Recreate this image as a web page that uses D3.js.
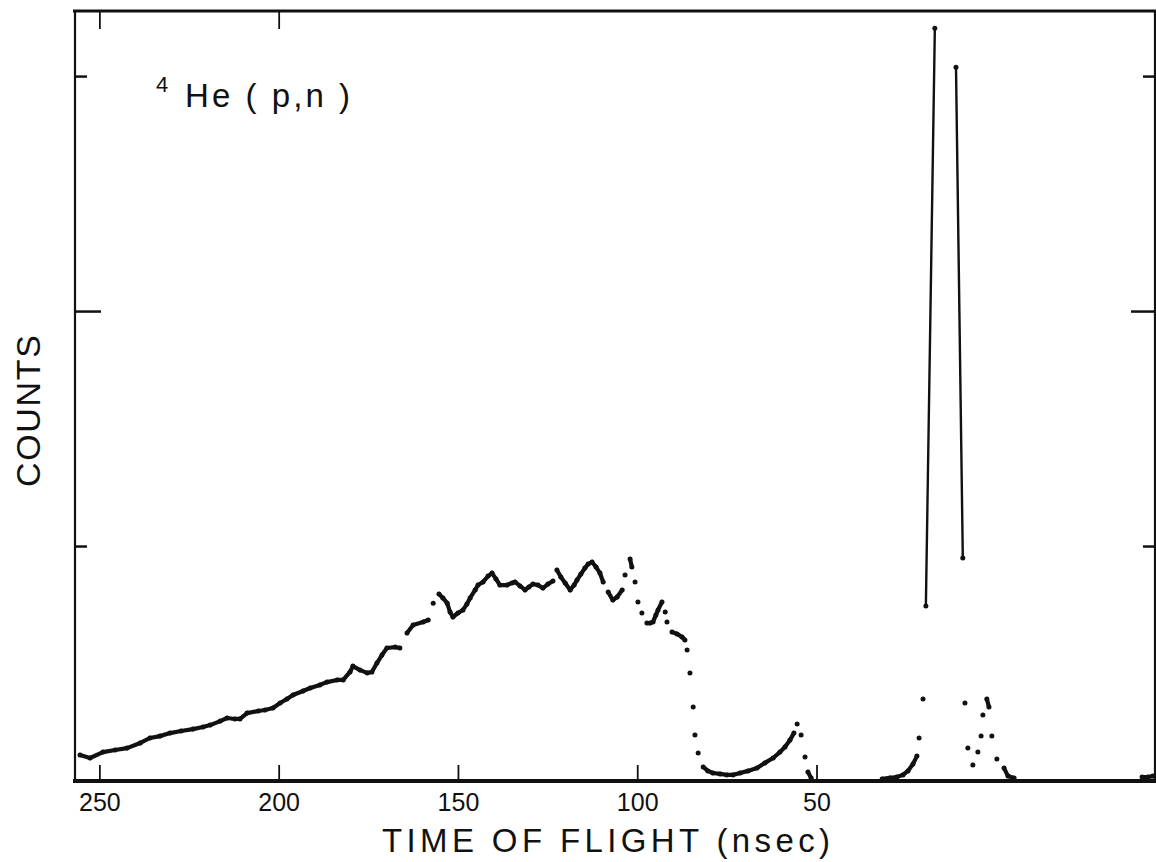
<!DOCTYPE html>
<html>
<head>
<meta charset="utf-8">
<script src="https://cdnjs.cloudflare.com/ajax/libs/d3/7.8.5/d3.min.js"></script>
<style>
  body { margin: 0; background: #fff; }
  svg { display: block; }
  text { font-family: "Liberation Sans", Arial, sans-serif; fill: #111; }
</style>
</head>
<body>
<div id="chart"></div>
<script>
// time of flight (nsec) from left to right
var tof = [255.4, 252.6, 249.0, 245.6, 242.3, 238.6, 235.9, 233.1, 230.3, 227.2,
  223.9, 221.1, 219.1, 216.3, 214.4, 212.2, 210.8, 208.8, 205.7, 203.8,
  201.6, 199.6, 197.7, 196.0, 193.2, 191.2, 188.5, 186.5, 183.7, 182.0,
  180.1, 179.3, 177.3, 175.3, 174.0, 172.6, 171.2, 169.8, 167.5, 166.2,
  164.2, 162.5, 159.7, 158.3, 156.9, 155.3, 154.2, 153.0, 152.2, 151.4,
  150.0, 148.6, 147.5, 146.6, 145.2, 144.4, 143.0, 141.6, 140.5, 139.4,
  138.3, 136.3, 134.9, 134.1, 132.7, 131.3, 130.2, 129.1, 127.7, 126.3,
  124.9, 123.5, 122.4, 121.3, 120.1, 118.7, 117.6, 116.8, 115.7, 114.6,
  113.7, 112.6, 111.5, 110.4, 109.5, 108.1, 106.8, 105.6, 104.2, 103.4,
  102.0, 101.5, 100.6, 99.8, 98.7, 97.3, 96.4, 95.6, 94.8, 94.2,
  93.1, 92.2, 91.7, 90.3, 88.9, 87.5, 86.7, 86.1, 85.3, 84.4,
  83.9, 83.0, 81.6, 80.3, 78.9, 76.9, 75.0, 73.3, 71.3, 69.1,
  66.6, 64.4, 62.1, 60.2, 58.8, 57.4, 56.3, 55.4, 54.3, 53.2,
  52.4, 51.5, 31.7, 29.5, 27.6, 25.9, 24.5, 23.1, 22.0, 21.4,
  20.3, 19.5, 17.0, 11.1, 9.2, 8.6, 7.8, 6.4, 5.0, 4.1,
  3.6, 2.5, 1.9, 1.1, -0.3, -2.3, -3.4, -5.1, -40.8, -42.4, -43.8];

// counts for each point above
var counts = [111, 98, 123, 132, 140, 162, 183, 191, 204, 213,
  221, 230, 238, 255, 268, 264, 264, 289, 298, 302,
  311, 332, 349, 366, 383, 396, 409, 421, 430, 430,
  464, 489, 472, 460, 464, 502, 536, 566, 570, 566,
  630, 664, 677, 685, 757, 796, 779, 757, 719, 698,
  715, 728, 753, 779, 813, 834, 847, 872, 885, 860,
  834, 834, 843, 847, 830, 813, 826, 838, 834, 821,
  838, 851, 898, 868, 843, 813, 834, 855, 881, 906,
  923, 932, 911, 885, 847, 804, 770, 783, 813, 877,
  945, 911, 847, 762, 715, 672, 672, 677, 706, 728,
  762, 719, 677, 634, 626, 613, 600, 557, 460, 315,
  196, 119, 60, 43, 34, 30, 26, 26, 34, 43,
  55, 77, 98, 123, 145, 174, 204, 243, 196, 102,
  38, 13, 9, 13, 17, 26, 43, 72, 106, 183,
  349, 745, 3204, 3038, 949, 332, 140, 68, 123, 191,
  281, 349, 315, 191, 94, 55, 21, 13, 17, 17, 21];

// the two tall strokes of the peak (null breaks the line)
var peakTof = [19.5, 17.0, null, 11.1, 9.2];
var peakCounts = [745, 3204, null, 3038, 949];

var xTicks = [250, 200, 150, 100, 50];
var topTicks = [250, 200];
var yTicks = [1000, 2000, 3000];
var longYTick = 2000;

const WIDTH = 1156;
const HEIGHT = 862;
const LEFT = 75, TOP = 11, RIGHT = 1155, BOTTOM = 781;

var xScale = d3.scaleLinear().domain([256.8, -44.4]).range([LEFT, RIGHT]);
var yScale = d3.scaleLinear().domain([0, 3277]).range([BOTTOM, TOP]);

var svg = d3.select('#chart').append('svg')
  .attr('width', WIDTH)
  .attr('height', HEIGHT);

svg.append('rect').attr('width', WIDTH).attr('height', HEIGHT).attr('fill', '#fff');

svg.append('clipPath').attr('id', 'plot-clip')
  .append('rect')
  .attr('x', LEFT).attr('y', TOP)
  .attr('width', RIGHT - LEFT).attr('height', BOTTOM - TOP);

// frame
var ink = '#111';
svg.append('line').attr('x1', LEFT - 2).attr('x2', RIGHT + 1).attr('y1', TOP).attr('y2', TOP)
  .attr('stroke', ink).attr('stroke-width', 3);
svg.append('line').attr('x1', LEFT - 2).attr('x2', RIGHT + 1).attr('y1', BOTTOM).attr('y2', BOTTOM)
  .attr('stroke', ink).attr('stroke-width', 4);
svg.append('line').attr('x1', LEFT).attr('x2', LEFT).attr('y1', TOP).attr('y2', BOTTOM)
  .attr('stroke', ink).attr('stroke-width', 2.2);
svg.append('line').attr('x1', RIGHT).attr('x2', RIGHT).attr('y1', TOP).attr('y2', BOTTOM)
  .attr('stroke', ink).attr('stroke-width', 2.2);

// axes (ticks point inward)
var styleAxis = function(g){
  g.select('.domain').remove();
  g.selectAll('.tick line').attr('stroke', ink).attr('stroke-width', 1.8);
  g.selectAll('text').attr('font-family', '"Liberation Sans", Arial, sans-serif')
    .attr('font-size', 25).attr('fill', ink);
};

svg.append('g')
  .attr('transform', 'translate(0,' + BOTTOM + ')')
  .call(d3.axisBottom(xScale).tickValues(xTicks).tickSize(-16).tickPadding(12))
  .call(styleAxis);

svg.append('g')
  .attr('transform', 'translate(0,' + TOP + ')')
  .call(d3.axisTop(xScale).tickValues(topTicks).tickSize(-18).tickFormat(''))
  .call(styleAxis);

var leftAxis = svg.append('g')
  .attr('transform', 'translate(' + LEFT + ',0)')
  .call(d3.axisLeft(yScale).tickValues(yTicks).tickSize(-12).tickFormat(''))
  .call(styleAxis);
leftAxis.selectAll('.tick line')
  .attr('x2', function(d){ return d === longYTick ? 26 : 12; })
  .attr('stroke-width', 2.5);

var rightAxis = svg.append('g')
  .attr('transform', 'translate(' + RIGHT + ',0)')
  .call(d3.axisRight(yScale).tickValues(yTicks).tickSize(-12).tickFormat(''))
  .call(styleAxis);
rightAxis.selectAll('.tick line')
  .attr('x2', function(d){ return d === longYTick ? -24 : -12; })
  .attr('stroke-width', 2.5);

// data
var points = tof.map(function(t, i){ return [t, counts[i]]; });
var plot = svg.append('g').attr('clip-path', 'url(#plot-clip)');

// neighbouring points that sit close together run into a solid trace
var pairs = [];
for (var i = 1; i < points.length; i++) {
  var dx = xScale(points[i][0]) - xScale(points[i - 1][0]);
  var dy = Math.abs(yScale(points[i][1]) - yScale(points[i - 1][1]));
  if (dx <= 15 && dy <= 9) pairs.push([points[i - 1], points[i]]);
}

plot.selectAll('line.trace')
  .data(pairs)
  .enter().append('line')
  .classed('trace', true)
  .attr('x1', function(d){ return xScale(d[0][0]); })
  .attr('y1', function(d){ return yScale(d[0][1]); })
  .attr('x2', function(d){ return xScale(d[1][0]); })
  .attr('y2', function(d){ return yScale(d[1][1]); })
  .attr('stroke', ink)
  .attr('stroke-width', 4.2)
  .attr('stroke-linecap', 'round');

plot.selectAll('circle')
  .data(points)
  .enter().append('circle')
  .attr('cx', function(d){ return xScale(d[0]); })
  .attr('cy', function(d){ return yScale(d[1]); })
  .attr('r', 2.5)
  .attr('fill', ink);

var peakLine = d3.line()
  .defined(function(d){ return d[0] !== null; })
  .x(function(d){ return xScale(d[0]); })
  .y(function(d){ return yScale(d[1]); });

plot.append('path')
  .attr('d', peakLine(peakTof.map(function(t, i){ return [t, peakCounts[i]]; })))
  .attr('fill', 'none')
  .attr('stroke', ink)
  .attr('stroke-width', 2.4);

// texts
svg.append('text')
  .attr('x', 156).attr('y', 92)
  .attr('font-size', 22)
  .text('4');

svg.append('text')
  .attr('x', 185).attr('y', 107)
  .attr('font-size', 33)
  .attr('textLength', 165)
  .attr('lengthAdjust', 'spacing')
  .text('He ( p,n )');

svg.append('text')
  .attr('x', 382).attr('y', 852)
  .attr('font-size', 33)
  .attr('textLength', 448)
  .attr('lengthAdjust', 'spacing')
  .text('TIME OF FLIGHT (nsec)');

svg.append('text')
  .attr('transform', 'translate(40,411) rotate(-90)')
  .attr('text-anchor', 'middle')
  .attr('font-size', 34)
  .attr('textLength', 152)
  .attr('lengthAdjust', 'spacing')
  .text('COUNTS');
</script>
</body>
</html>
